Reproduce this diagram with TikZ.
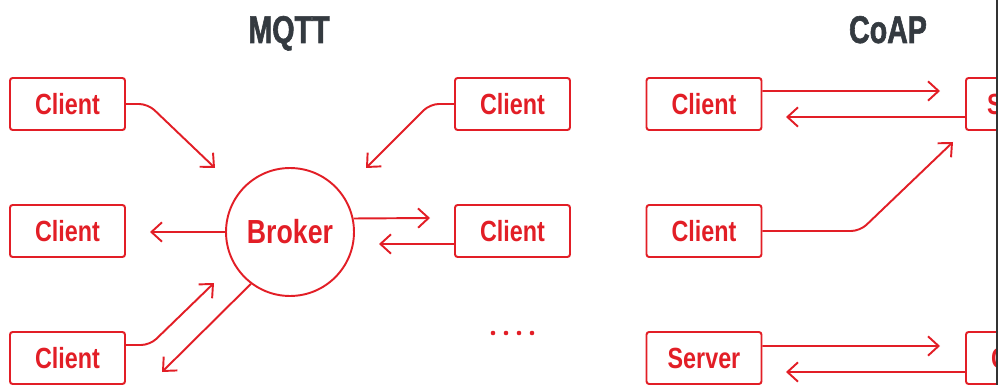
\documentclass[tikz,border=0pt]{standalone}
\usepackage{fontspec}
\setmainfont[FakeStretch=0.8]{Liberation Sans}
\newfontfamily\titlefont[FakeStretch=0.74,FakeBold=1.5]{Liberation Sans}
\usetikzlibrary{arrows.meta}
\definecolor{mqred}{RGB}{226,30,38}
\definecolor{ttl}{RGB}{52,58,64}
\begin{document}
\begin{tikzpicture}[x=0.02cm,y=-0.02cm,
  box/.style={draw=mqred, line width=1.1pt, rounded corners=1.5pt, minimum width=2.3cm, minimum height=1.04cm, text=mqred, font=\bfseries\fontsize{16.6}{18}\selectfont, inner sep=0pt},
  arr/.style={draw=mqred, line width=1.1pt, -{Straight Barb[length=6pt,width=11pt]}},
  title/.style={text=ttl, font=\titlefont\bfseries\fontsize{22}{24}\selectfont, anchor=base}]
\useasboundingbox (0,0) rectangle (998,385);
\clip (0,0) rectangle (998,385);
% titles
\node[title] (mqtt) at (289,43) {MQTT};
\node[title] (coap) at (888,43) {CoAP};
% MQTT
\node[box] (c1) at (67.5,104) {Client};
\node[box] (c2) at (67.5,231) {Client};
\node[box] (c3) at (67.5,358) {Client};
\node[box] (c4) at (512.5,104) {Client};
\node[box] (c5) at (512.5,231) {Client};
\node[circle, draw=mqred, line width=1.1pt, minimum size=2.56cm, text=mqred, font=\bfseries\fontsize{19}{21}\selectfont, inner sep=0pt] (broker) at (290,232) {Broker};
\coordinate (t1) at (215,168);
\coordinate (t4) at (366,168);
\coordinate (t2) at (150,232);
\coordinate (t5a) at (430,218);
\coordinate (t5b) at (379,244);
\coordinate (t3a) at (214,283);
\coordinate (t3b) at (162,372);
\draw[arr, rounded corners=5pt] (c1.east) -- (148,104) -- (t1);
\draw[arr, rounded corners=5pt] (c4.west) -- (430,104) -- (t4);
\draw[arr] (broker.west) -- (t2);
\draw[arr] (broker.12.6) -- (t5a);
\draw[arr] ([yshift=-0.26cm]c5.west) -- (t5b);
\draw[arr, rounded corners=5pt] ([yshift=0.26cm]c3.east) -- (150,345) -- (t3a);
\draw[arr] (broker.-127) -- (t3b);
\foreach \x in {493,506,519,532} \fill[mqred] (\x,333) circle[radius=1.3pt];
% CoAP
\node[box] (k1) at (704,104) {Client};
\node[box] (k2) at (704,231) {Client};
\node[box] (k3) at (704,358) {Server};
\node[box, anchor=west] (ks) at (965,104) {Server};
\node[box, anchor=west] (kc) at (965,358) {Client};
\coordinate (u1) at (940,91);
\coordinate (u2) at (786,117);
\coordinate (u3) at (953,142);
\coordinate (u4) at (940,346);
\coordinate (u5) at (786,372);
\draw[arr] ([yshift=0.26cm]k1.east) -- (u1);
\draw[arr] ([yshift=-0.26cm]ks.west) -- (u2);
\draw[arr, rounded corners=5pt] (k2.east) -- (860,231) -- (u3);
\draw[arr] ([yshift=0.24cm]k3.east) -- (u4);
\draw[arr] ([yshift=-0.28cm]kc.west) -- (u5);
\fill[black!80] (995.5,0) rectangle (998,385);
\end{tikzpicture}
\end{document}
